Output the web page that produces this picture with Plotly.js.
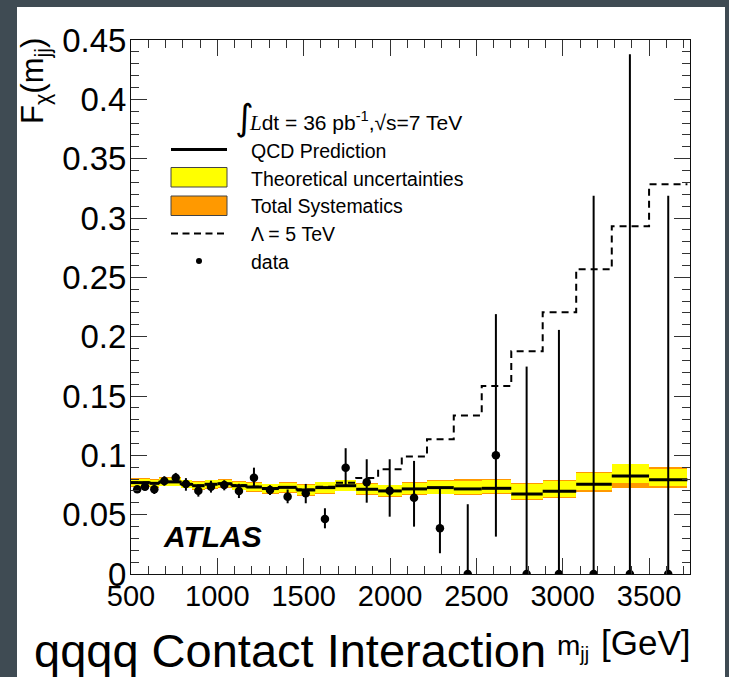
<!DOCTYPE html>
<html>
<head>
<meta charset="utf-8">
<script src="https://cdn.plot.ly/plotly-3.0.1.min.js"></script>
<style>
  html, body { margin: 0; padding: 0; background: #3f4b53; }
  #chart { width: 729px; height: 677px; }
</style>
</head>
<body>
<div id="chart"></div>
<script>
// Dijet invariant mass bin edges [GeV]
const binEdges = [500, 558, 608, 664, 726, 788, 854, 926, 1001, 1082, 1168, 1258, 1356, 1459, 1567,
                  1683, 1804, 1931, 2068, 2214, 2369, 2531, 2702, 2884, 3078, 3284, 3500, 3722];

// QCD prediction of F_chi in each mass bin
const qcdValues = [0.0770, 0.0770, 0.0764, 0.0776, 0.0776, 0.0756, 0.0744, 0.0756, 0.0761, 0.0744,
                   0.0733, 0.0720, 0.0730, 0.0708, 0.0728, 0.0744, 0.0714, 0.0700, 0.0717, 0.0728,
                   0.0717, 0.0722, 0.0674, 0.0697, 0.0756, 0.0826, 0.0795];

// Theoretical uncertainty band
const theoryLow  = [0.0738, 0.0738, 0.0733, 0.0745, 0.0745, 0.0726, 0.0714, 0.0724, 0.0729, 0.0710,
                    0.0699, 0.0684, 0.0692, 0.0668, 0.0686, 0.0702, 0.0670, 0.0655, 0.0670, 0.0678,
                    0.0675, 0.0680, 0.0630, 0.0646, 0.0708, 0.0770, 0.0742];
const theoryHigh = [0.0800, 0.0800, 0.0795, 0.0806, 0.0807, 0.0788, 0.0775, 0.0788, 0.0794, 0.0779,
                    0.0768, 0.0757, 0.0770, 0.0750, 0.0772, 0.0788, 0.0760, 0.0748, 0.0766, 0.0782,
                    0.0787, 0.0793, 0.0756, 0.0784, 0.0849, 0.0927, 0.0883];

// Total systematic uncertainty band
const systLow  = [0.0733, 0.0734, 0.0728, 0.0740, 0.0738, 0.0721, 0.0709, 0.0719, 0.0724, 0.0705,
                  0.0694, 0.0678, 0.0686, 0.0661, 0.0676, 0.0696, 0.0663, 0.0648, 0.0663, 0.0670,
                  0.0666, 0.0672, 0.0624, 0.0638, 0.0694, 0.0728, 0.0728];
const systHigh = [0.0806, 0.0805, 0.0800, 0.0815, 0.0818, 0.0795, 0.0781, 0.0793, 0.0799, 0.0784,
                  0.0773, 0.0762, 0.0775, 0.0755, 0.0778, 0.0793, 0.0765, 0.0753, 0.0772, 0.0790,
                  0.0798, 0.0800, 0.0764, 0.0792, 0.0862, 0.0930, 0.0900];

// Contact interaction prediction, Lambda = 5 TeV
const ciValues = [0.0772, 0.0772, 0.0766, 0.0778, 0.0778, 0.0758, 0.0746, 0.0758, 0.0763, 0.0747,
                  0.0736, 0.0724, 0.0734, 0.0713, 0.0735, 0.0770, 0.0810, 0.0883, 0.0990, 0.1136,
                  0.1335, 0.1585, 0.1877, 0.2206, 0.2568, 0.2931, 0.3285];

// Measured F_chi (36 pb^-1)
const dataMass = [536, 581, 635, 693, 759, 818, 890, 963, 1040, 1125, 1212, 1305, 1407, 1512, 1623,
                  1743, 1865, 1998, 2139, 2289, 2450, 2613, 2791, 2978, 3179, 3389, 3611];
const dataFchi = [0.0714, 0.0736, 0.0714, 0.0784, 0.0812, 0.0758, 0.0702, 0.0736, 0.0750, 0.0700,
                  0.0812, 0.0708, 0.0652, 0.0680, 0.0464, 0.0896, 0.0773, 0.0702, 0.0643, 0.0385,
                  0, 0.1000, 0, 0, 0, 0, 0];
const dataErrUp   = [0.003, 0.003, 0.004, 0.004, 0.004, 0.005, 0.005, 0.005, 0.004, 0.006,
                     0.0084, 0.004, 0.006, 0.0079, 0.009, 0.0164, 0.0194, 0.0265, 0.031, 0.0335,
                     0.0588, 0.119, 0.1748, 0.2057, 0.3187, 0.438, 0.3187];
const dataErrDown = [0.003, 0.003, 0.004, 0.004, 0.004, 0.0056, 0.005, 0.005, 0.0045, 0.006,
                     0.008, 0.0042, 0.0056, 0.0084, 0.0079, 0.0146, 0.0172, 0.0219, 0.0244, 0.021,
                     0, 0.0685, 0, 0, 0, 0, 0];

// Axis tick values and labels
const yTickVals = [0, 0.05, 0.1, 0.15, 0.2, 0.25, 0.3, 0.35, 0.4, 0.45];
const yTickLabels = ['0', '0.05', '0.1', '0.15', '0.2', '0.25', '0.3', '0.35', '0.4', '0.45'];
const xTickVals = [500, 1000, 1500, 2000, 2500, 3000, 3500];
const xTickLabels = ['500', '1000', '1500', '2000', '2500', '3000', '3500'];

// Legend entries
const legendLabels = ['QCD Prediction', 'Theoretical uncertainties', 'Total Systematics', '\u039B = 5 TeV', 'data'];

// ---- derived per-bin geometry ----
const nBins = qcdValues.length;
const binCenters = [], binWidths = [];
for (let i = 0; i < nBins; i++) {
  binCenters.push((binEdges[i] + binEdges[i + 1]) / 2);
  binWidths.push(binEdges[i + 1] - binEdges[i]);
}
const diff = (hi, lo) => hi.map((v, i) => v - lo[i]);

// QCD as separate horizontal segments per bin
const qcdX = [], qcdY = [];
for (let i = 0; i < nBins; i++) {
  qcdX.push(binEdges[i], binEdges[i + 1], null);
  qcdY.push(qcdValues[i], qcdValues[i], null);
}

const FONT = 'Liberation Sans, Arial, Helvetica, sans-serif';

const traces = [
  { type: 'bar', x: binCenters, width: binWidths, base: systLow, y: diff(systHigh, systLow),
    marker: { color: '#ff9900', line: { width: 0 } }, hoverinfo: 'skip', showlegend: false },
  { type: 'bar', x: binCenters, width: binWidths, base: theoryLow, y: diff(theoryHigh, theoryLow),
    marker: { color: '#ffff00', line: { width: 0 } }, hoverinfo: 'skip', showlegend: false },
  { type: 'scatter', mode: 'lines', x: binEdges, y: ciValues.concat([ciValues[nBins - 1]]),
    line: { shape: 'hv', color: '#000', width: 2, dash: '7px,5px' }, showlegend: false },
  { type: 'scatter', mode: 'lines', x: qcdX, y: qcdY, connectgaps: false,
    line: { color: '#000', width: 3 }, showlegend: false },
  { type: 'scatter', mode: 'markers', x: dataMass, y: dataFchi,
    marker: { color: '#000', size: 8.5 },
    error_y: { type: 'data', symmetric: false, array: dataErrUp, arrayminus: dataErrDown,
               color: '#000', thickness: 2, width: 0 },
    cliponaxis: true, showlegend: false }
];

// plot-area pixel -> paper coordinates
const M = { l: 131, r: 39, t: 40, b: 103 };
const PW = 729 - M.l - M.r, PH = 677 - M.t - M.b;
const px = v => (v - M.l) / PW;
const py = v => 1 - (v - M.t) / PH;

const shapes = [
  // white canvas panel
  { type: 'rect', xref: 'paper', yref: 'paper', x0: px(17), x1: px(725), y0: py(700), y1: py(7),
    fillcolor: '#ffffff', line: { width: 0 }, layer: 'below' },
  // legend symbols
  { type: 'line', xref: 'paper', yref: 'paper', x0: px(171), x1: px(227), y0: py(149.5), y1: py(149.5),
    line: { color: '#000', width: 3 } },
  { type: 'rect', xref: 'paper', yref: 'paper', x0: px(171), x1: px(227), y0: py(187), y1: py(167.5),
    fillcolor: '#ffff00', line: { color: '#444', width: 1 } },
  { type: 'rect', xref: 'paper', yref: 'paper', x0: px(171), x1: px(227), y0: py(215.5), y1: py(196),
    fillcolor: '#ff9900', line: { color: '#444', width: 1 } },
  { type: 'line', xref: 'paper', yref: 'paper', x0: px(171), x1: px(227), y0: py(233.5), y1: py(233.5),
    line: { color: '#000', width: 2, dash: '7px,4.5px' } },
  { type: 'circle', xref: 'paper', yref: 'paper', x0: px(196), x1: px(202), y0: py(264), y1: py(258),
    fillcolor: '#000', line: { width: 0 } }
];

const legendY = [151, 178.5, 206, 234, 262];
const annotations = legendLabels.map((t, i) => ({
  xref: 'paper', yref: 'paper', x: px(249), y: py(legendY[i]), xanchor: 'left', yanchor: 'middle',
  text: t, showarrow: false, font: { family: FONT, size: 19.5, color: '#000' }
}));

annotations.push(
  { xref: 'paper', yref: 'paper', x: px(233), y: py(117), xanchor: 'left', yanchor: 'middle',
    text: '\u222B', showarrow: false, font: { family: 'DejaVu Sans, sans-serif', size: 36, color: '#000' } },
  { xref: 'paper', yref: 'paper', x: px(247), y: py(121), xanchor: 'left', yanchor: 'middle',
    text: '<span style="font-family:Liberation Serif"><i>L</i></span>dt = 36 pb<sup>-1</sup>,\u221As=7 TeV',
    showarrow: false, font: { family: FONT, size: 21, color: '#000' } },
  { xref: 'paper', yref: 'paper', x: px(212), y: py(536), xanchor: 'center', yanchor: 'middle',
    text: '<b><i>ATLAS</i></b>', showarrow: false, font: { family: FONT, size: 30, color: '#000' } },
  { xref: 'paper', yref: 'paper', x: px(35), y: py(36), xanchor: 'center', yanchor: 'top', textangle: -90,
    text: 'F<sub>\u03C7</sub>(m<sub>jj</sub>)', showarrow: false, font: { family: FONT, size: 31, color: '#000' } },
  { xref: 'paper', yref: 'paper', x: px(555), y: py(647), xanchor: 'left', yanchor: 'middle',
    text: 'm<sub>jj</sub>', showarrow: false, font: { family: FONT, size: 28, color: '#000' } },
  { xref: 'paper', yref: 'paper', x: px(599), y: py(642), xanchor: 'left', yanchor: 'middle',
    text: '[GeV]', showarrow: false, font: { family: FONT, size: 35, color: '#000' } },
  { xref: 'paper', yref: 'paper', x: px(32), y: py(650), xanchor: 'left', yanchor: 'middle',
    text: 'qqqq Contact Interaction', showarrow: false, font: { family: FONT, size: 47, color: '#000' } }
);

const axisCommon = {
  showline: true, linecolor: '#111', linewidth: 1, mirror: 'ticks',
  ticks: 'inside', ticklen: 16, tickwidth: 1, tickcolor: '#333',
  showgrid: false, zeroline: false
};

const layout = {
  width: 729, height: 677,
  margin: M,
  paper_bgcolor: '#3f4b53',
  plot_bgcolor: '#ffffff',
  barmode: 'overlay',
  bargap: 0,
  showlegend: false,
  xaxis: Object.assign({}, axisCommon, {
    range: [500, 3737], tickmode: 'array', tickvals: xTickVals, ticktext: xTickLabels,
    tickfont: { family: FONT, size: 29, color: '#000' },
    minor: { dtick: 100, ticks: 'inside', ticklen: 8, tickcolor: '#333', showgrid: false },
    ticklabelstandoff: -4
  }),
  yaxis: Object.assign({}, axisCommon, {
    range: [0, 0.45], tickmode: 'array', tickvals: yTickVals, ticktext: yTickLabels,
    tickfont: { family: FONT, size: 33, color: '#000' },
    minor: { dtick: 0.01, ticks: 'inside', ticklen: 8, tickcolor: '#333', showgrid: false },
    ticklabelstandoff: -3
  }),
  shapes: shapes,
  annotations: annotations
};

Plotly.newPlot('chart', traces, layout, { staticPlot: true, displayModeBar: false });
</script>
</body>
</html>
